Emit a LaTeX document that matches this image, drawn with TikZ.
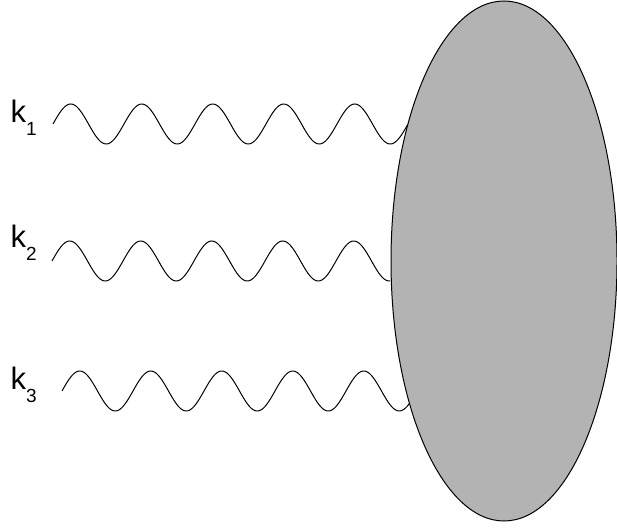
\documentclass[tikz,border=0pt]{standalone}
\usepackage{fontspec}
\setmainfont{Liberation Sans}
\usetikzlibrary{shapes.geometric}
\definecolor{BlobGray}{HTML}{B3B3B3}

\newcommand{\klabel}[1]{k\raisebox{-.4em}{\fontsize{19}{19}\selectfont #1}}

\begin{document}
\begin{tikzpicture}[x=1pt,y=1pt,line width=1pt]
  \useasboundingbox (0,0) rectangle (617,529);
  \tikzset{lab/.style={anchor=base west,inner sep=0pt,font=\fontsize{31}{31}\selectfont}}
  % momenta and photon lines
  \foreach \i/\yc/\yb/\xs/\len in {1/405/406/53/355, 2/268/281/52/338, 3/138/139/62/348}{
    \node[lab] (k\i) at (10,\yb) {\klabel{\i}};
    \coordinate (w\i) at (\xs,\yc);
    \draw[shift={(w\i)}] plot[domain=0:\len,samples=240,smooth] (\x,{20*sin(\x/71*360)});
  }
  \node[ellipse,draw,fill=BlobGray,minimum width=226pt,minimum height=520pt,inner sep=0pt] (blob) at (504,268) {};
\end{tikzpicture}
\end{document}
